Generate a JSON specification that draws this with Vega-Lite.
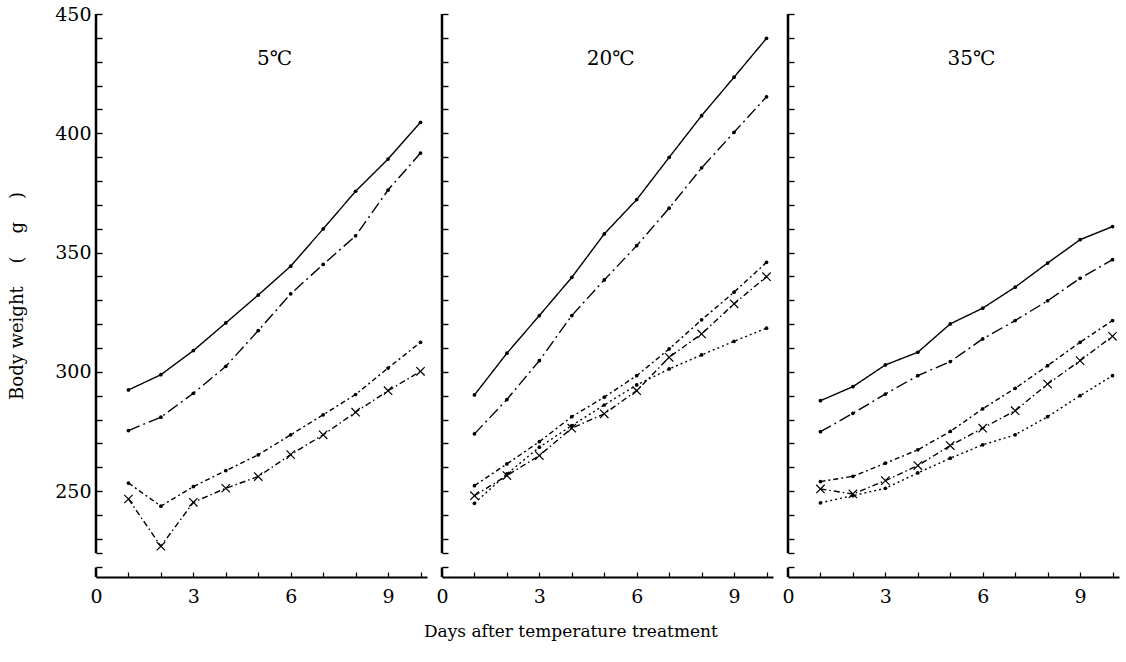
{
  "$schema": "https://vega.github.io/schema/vega-lite/v6.json",
  "padding": {"left": 8, "top": 5, "right": 2, "bottom": 2},
  "background": "white",
  "config": {
    "view": {"stroke": null},
    "font": "DejaVu Serif",
    "axis": {
      "grid": false,
      "labelFont": "DejaVu Serif",
      "labelFontSize": 19,
      "labelColor": "black",
      "tickColor": "black",
      "domainColor": "black",
      "titleFont": "DejaVu Serif",
      "titleFontWeight": "normal",
      "titleColor": "black",
      "labelFlush": false,
      "labelOverlap": false,
      "tickCount": 200,
      "format": "d"
    }
  },
  "title": {
    "text": "Days after temperature treatment",
    "orient": "bottom",
    "anchor": "middle",
    "font": "DejaVu Serif",
    "fontSize": 17,
    "fontWeight": "normal",
    "color": "black",
    "offset": 18,
    "dx": 7
  },
  "spacing": 7,
  "datasets": {
    "bw": [
      {"temp": "5℃", "series": "A", "day": 1, "w": 292.4},
      {"temp": "5℃", "series": "A", "day": 2, "w": 298.8},
      {"temp": "5℃", "series": "A", "day": 3, "w": 308.9},
      {"temp": "5℃", "series": "A", "day": 4, "w": 320.5},
      {"temp": "5℃", "series": "A", "day": 5, "w": 332.2},
      {"temp": "5℃", "series": "A", "day": 6, "w": 344.3},
      {"temp": "5℃", "series": "A", "day": 7, "w": 359.9},
      {"temp": "5℃", "series": "A", "day": 8, "w": 375.7},
      {"temp": "5℃", "series": "A", "day": 9, "w": 389.2},
      {"temp": "5℃", "series": "A", "day": 10, "w": 404.6},
      {"temp": "5℃", "series": "B", "day": 1, "w": 275.4},
      {"temp": "5℃", "series": "B", "day": 2, "w": 281.0},
      {"temp": "5℃", "series": "B", "day": 3, "w": 291.0},
      {"temp": "5℃", "series": "B", "day": 4, "w": 302.3},
      {"temp": "5℃", "series": "B", "day": 5, "w": 317.3},
      {"temp": "5℃", "series": "B", "day": 6, "w": 332.7},
      {"temp": "5℃", "series": "B", "day": 7, "w": 345.0},
      {"temp": "5℃", "series": "B", "day": 8, "w": 357.0},
      {"temp": "5℃", "series": "B", "day": 9, "w": 376.2},
      {"temp": "5℃", "series": "B", "day": 10, "w": 391.7},
      {"temp": "5℃", "series": "C", "day": 1, "w": 253.4},
      {"temp": "5℃", "series": "C", "day": 2, "w": 243.7},
      {"temp": "5℃", "series": "C", "day": 3, "w": 251.9},
      {"temp": "5℃", "series": "C", "day": 4, "w": 258.6},
      {"temp": "5℃", "series": "C", "day": 5, "w": 265.2},
      {"temp": "5℃", "series": "C", "day": 6, "w": 273.6},
      {"temp": "5℃", "series": "C", "day": 7, "w": 282.0},
      {"temp": "5℃", "series": "C", "day": 8, "w": 290.5},
      {"temp": "5℃", "series": "C", "day": 9, "w": 301.6},
      {"temp": "5℃", "series": "C", "day": 10, "w": 312.4},
      {"temp": "5℃", "series": "D", "day": 1, "w": 246.7},
      {"temp": "5℃", "series": "D", "day": 2, "w": 226.9},
      {"temp": "5℃", "series": "D", "day": 3, "w": 245.3},
      {"temp": "5℃", "series": "D", "day": 4, "w": 251.2},
      {"temp": "5℃", "series": "D", "day": 5, "w": 256.1},
      {"temp": "5℃", "series": "D", "day": 6, "w": 265.3},
      {"temp": "5℃", "series": "D", "day": 7, "w": 273.6},
      {"temp": "5℃", "series": "D", "day": 8, "w": 283.1},
      {"temp": "5℃", "series": "D", "day": 9, "w": 292.1},
      {"temp": "5℃", "series": "D", "day": 10, "w": 300.2},
      {"temp": "20℃", "series": "A", "day": 1, "w": 290.3},
      {"temp": "20℃", "series": "A", "day": 2, "w": 307.8},
      {"temp": "20℃", "series": "A", "day": 3, "w": 323.6},
      {"temp": "20℃", "series": "A", "day": 4, "w": 339.6},
      {"temp": "20℃", "series": "A", "day": 5, "w": 357.8},
      {"temp": "20℃", "series": "A", "day": 6, "w": 372.2},
      {"temp": "20℃", "series": "A", "day": 7, "w": 389.9},
      {"temp": "20℃", "series": "A", "day": 8, "w": 407.4},
      {"temp": "20℃", "series": "A", "day": 9, "w": 423.5},
      {"temp": "20℃", "series": "A", "day": 10, "w": 439.8},
      {"temp": "20℃", "series": "B", "day": 1, "w": 274.0},
      {"temp": "20℃", "series": "B", "day": 2, "w": 288.4},
      {"temp": "20℃", "series": "B", "day": 3, "w": 304.7},
      {"temp": "20℃", "series": "B", "day": 4, "w": 323.6},
      {"temp": "20℃", "series": "B", "day": 5, "w": 338.5},
      {"temp": "20℃", "series": "B", "day": 6, "w": 352.9},
      {"temp": "20℃", "series": "B", "day": 7, "w": 368.6},
      {"temp": "20℃", "series": "B", "day": 8, "w": 385.5},
      {"temp": "20℃", "series": "B", "day": 9, "w": 400.4},
      {"temp": "20℃", "series": "B", "day": 10, "w": 415.3},
      {"temp": "20℃", "series": "C", "day": 1, "w": 252.3},
      {"temp": "20℃", "series": "C", "day": 2, "w": 261.4},
      {"temp": "20℃", "series": "C", "day": 3, "w": 270.7},
      {"temp": "20℃", "series": "C", "day": 4, "w": 281.2},
      {"temp": "20℃", "series": "C", "day": 5, "w": 289.4},
      {"temp": "20℃", "series": "C", "day": 6, "w": 298.4},
      {"temp": "20℃", "series": "C", "day": 7, "w": 309.6},
      {"temp": "20℃", "series": "C", "day": 8, "w": 321.8},
      {"temp": "20℃", "series": "C", "day": 9, "w": 333.4},
      {"temp": "20℃", "series": "C", "day": 10, "w": 345.9},
      {"temp": "20℃", "series": "D", "day": 1, "w": 248.1},
      {"temp": "20℃", "series": "D", "day": 2, "w": 256.5},
      {"temp": "20℃", "series": "D", "day": 3, "w": 264.9},
      {"temp": "20℃", "series": "D", "day": 4, "w": 276.4},
      {"temp": "20℃", "series": "D", "day": 5, "w": 282.4},
      {"temp": "20℃", "series": "D", "day": 6, "w": 292.1},
      {"temp": "20℃", "series": "D", "day": 7, "w": 306.1},
      {"temp": "20℃", "series": "D", "day": 8, "w": 315.9},
      {"temp": "20℃", "series": "D", "day": 9, "w": 328.5},
      {"temp": "20℃", "series": "D", "day": 10, "w": 339.9},
      {"temp": "20℃", "series": "E", "day": 1, "w": 244.9},
      {"temp": "20℃", "series": "E", "day": 2, "w": 257.2},
      {"temp": "20℃", "series": "E", "day": 3, "w": 268.4},
      {"temp": "20℃", "series": "E", "day": 4, "w": 277.5},
      {"temp": "20℃", "series": "E", "day": 5, "w": 286.1},
      {"temp": "20℃", "series": "E", "day": 6, "w": 294.5},
      {"temp": "20℃", "series": "E", "day": 7, "w": 301.2},
      {"temp": "20℃", "series": "E", "day": 8, "w": 307.1},
      {"temp": "20℃", "series": "E", "day": 9, "w": 312.8},
      {"temp": "20℃", "series": "E", "day": 10, "w": 318.3},
      {"temp": "35℃", "series": "A", "day": 1, "w": 287.9},
      {"temp": "35℃", "series": "A", "day": 2, "w": 293.8},
      {"temp": "35℃", "series": "A", "day": 3, "w": 302.9},
      {"temp": "35℃", "series": "A", "day": 4, "w": 308.2},
      {"temp": "35℃", "series": "A", "day": 5, "w": 320.1},
      {"temp": "35℃", "series": "A", "day": 6, "w": 326.7},
      {"temp": "35℃", "series": "A", "day": 7, "w": 335.5},
      {"temp": "35℃", "series": "A", "day": 8, "w": 345.6},
      {"temp": "35℃", "series": "A", "day": 9, "w": 355.4},
      {"temp": "35℃", "series": "A", "day": 10, "w": 360.9},
      {"temp": "35℃", "series": "B", "day": 1, "w": 274.9},
      {"temp": "35℃", "series": "B", "day": 2, "w": 282.6},
      {"temp": "35℃", "series": "B", "day": 3, "w": 290.7},
      {"temp": "35℃", "series": "B", "day": 4, "w": 298.4},
      {"temp": "35℃", "series": "B", "day": 5, "w": 304.3},
      {"temp": "35℃", "series": "B", "day": 6, "w": 313.8},
      {"temp": "35℃", "series": "B", "day": 7, "w": 321.5},
      {"temp": "35℃", "series": "B", "day": 8, "w": 329.8},
      {"temp": "35℃", "series": "B", "day": 9, "w": 339.2},
      {"temp": "35℃", "series": "B", "day": 10, "w": 347.0},
      {"temp": "35℃", "series": "C", "day": 1, "w": 254.0},
      {"temp": "35℃", "series": "C", "day": 2, "w": 256.2},
      {"temp": "35℃", "series": "C", "day": 3, "w": 261.7},
      {"temp": "35℃", "series": "C", "day": 4, "w": 267.3},
      {"temp": "35℃", "series": "C", "day": 5, "w": 275.0},
      {"temp": "35℃", "series": "C", "day": 6, "w": 284.5},
      {"temp": "35℃", "series": "C", "day": 7, "w": 293.1},
      {"temp": "35℃", "series": "C", "day": 8, "w": 302.6},
      {"temp": "35℃", "series": "C", "day": 9, "w": 312.4},
      {"temp": "35℃", "series": "C", "day": 10, "w": 321.5},
      {"temp": "35℃", "series": "D", "day": 1, "w": 250.9},
      {"temp": "35℃", "series": "D", "day": 2, "w": 248.8},
      {"temp": "35℃", "series": "D", "day": 3, "w": 254.4},
      {"temp": "35℃", "series": "D", "day": 4, "w": 260.7},
      {"temp": "35℃", "series": "D", "day": 5, "w": 269.1},
      {"temp": "35℃", "series": "D", "day": 6, "w": 276.4},
      {"temp": "35℃", "series": "D", "day": 7, "w": 283.7},
      {"temp": "35℃", "series": "D", "day": 8, "w": 294.9},
      {"temp": "35℃", "series": "D", "day": 9, "w": 304.7},
      {"temp": "35℃", "series": "D", "day": 10, "w": 314.9},
      {"temp": "35℃", "series": "E", "day": 1, "w": 245.1},
      {"temp": "35℃", "series": "E", "day": 2, "w": 248.1},
      {"temp": "35℃", "series": "E", "day": 3, "w": 251.2},
      {"temp": "35℃", "series": "E", "day": 4, "w": 257.6},
      {"temp": "35℃", "series": "E", "day": 5, "w": 263.8},
      {"temp": "35℃", "series": "E", "day": 6, "w": 269.4},
      {"temp": "35℃", "series": "E", "day": 7, "w": 273.6},
      {"temp": "35℃", "series": "E", "day": 8, "w": 281.2},
      {"temp": "35℃", "series": "E", "day": 9, "w": 290.0},
      {"temp": "35℃", "series": "E", "day": 10, "w": 298.4}
    ]
  },
  "hconcat": [
    {
      "width": 331,
      "height": 563,
      "data": {"name": "bw"},
      "transform": [{"filter": "datum.temp === '5℃'"}],
      "layer": [
        {
          "mark": {"type": "line", "color": "black", "strokeWidth": 1.4},
          "encoding": {
            "x": {"field": "day", "type": "quantitative", "scale": {"domain": [0, 10.2], "nice": false},
              "axis": {"title": null, "values": [0,1,2,3,4,5,6,7,8,9,10], "labelExpr": "(datum.value % 3 === 0 && datum.value < 10) ? datum.label : ''", "tickSize": -5, "tickWidth": 1.2, "domainWidth": 2.2, "labelPadding": 15}},
            "y": {"field": "w", "type": "quantitative", "scale": {"domain": [214, 450], "nice": false, "zero": false},
              "axis": {"title": "Body weight\u00a0\u00a0\u00a0\u00a0(\u00a0\u00a0\u00a0\u00a0g\u00a0\u00a0\u00a0\u00a0)", "titleFontSize": 18, "titlePadding": 28, "domain": false, "values": [218,224,230,240,250,260,270,280,290,300,310,320,330,340,350,360,370,380,390,400,410,420,430,440,450], "labelExpr": "datum.value % 50 === 0 ? datum.label : ''", "tickSize": -6, "tickWidth": 1.4, "labelPadding": 11}},
            "detail": {"field": "series"},
            "strokeDash": {"field": "series", "type": "nominal", "scale": {"domain": ["A","B","C","D","E"], "range": [[1,0],[12,4,2,4],[5,3,2,3],[6,3,1.5,3],[2,3]]}, "legend": null}
          }
        },
        {
          "transform": [{"filter": "datum.series !== 'D'"}],
          "mark": {"type": "point", "shape": "circle", "filled": true, "color": "black", "size": 14, "opacity": 1},
          "encoding": {"x": {"field": "day", "type": "quantitative"}, "y": {"field": "w", "type": "quantitative"}}
        },
        {
          "transform": [{"filter": "datum.series === 'D'"}],
          "mark": {"type": "point", "shape": "M-1,-1L1,1M-1,1L1,-1", "filled": false, "color": "black", "strokeWidth": 1.2, "size": 70, "opacity": 1},
          "encoding": {"x": {"field": "day", "type": "quantitative"}, "y": {"field": "w", "type": "quantitative"}}
        },
        {
          "data": {"values": [{}]},
          "mark": {"type": "rule", "color": "black", "strokeWidth": 2.5},
          "encoding": {"x": {"datum": 0, "type": "quantitative"}, "y": {"datum": 224, "type": "quantitative"}, "y2": {"datum": 450}}
        },
        {
          "data": {"values": [{}]},
          "mark": {"type": "rule", "color": "black", "strokeWidth": 2.5},
          "encoding": {"x": {"datum": 0, "type": "quantitative"}, "y": {"datum": 214, "type": "quantitative"}, "y2": {"datum": 218}}
        },
        {
          "data": {"values": [{"t": "5℃"}]},
          "mark": {"type": "text", "font": "DejaVu Serif", "fontSize": 20, "color": "black"},
          "encoding": {"x": {"datum": 5.5, "type": "quantitative"}, "y": {"datum": 431, "type": "quantitative"}, "text": {"field": "t"}}
        }
      ]
    },
    {
      "width": 331,
      "height": 563,
      "data": {"name": "bw"},
      "transform": [{"filter": "datum.temp === '20℃'"}],
      "layer": [
        {
          "mark": {"type": "line", "color": "black", "strokeWidth": 1.4},
          "encoding": {
            "x": {"field": "day", "type": "quantitative", "scale": {"domain": [0, 10.2], "nice": false},
              "axis": {"title": null, "values": [0,1,2,3,4,5,6,7,8,9,10], "labelExpr": "(datum.value % 3 === 0 && datum.value < 10) ? datum.label : ''", "tickSize": -5, "tickWidth": 1.2, "domainWidth": 2.2, "labelPadding": 15}},
            "y": {"field": "w", "type": "quantitative", "scale": {"domain": [214, 450], "nice": false, "zero": false},
              "axis": {"title": null, "labels": false, "domain": false, "values": [218,224,230,240,250,260,270,280,290,300,310,320,330,340,350,360,370,380,390,400,410,420,430,440,450], "tickSize": -6, "tickWidth": 1.4}},
            "detail": {"field": "series"},
            "strokeDash": {"field": "series", "type": "nominal", "scale": {"domain": ["A","B","C","D","E"], "range": [[1,0],[12,4,2,4],[5,3,2,3],[6,3,1.5,3],[2,3]]}, "legend": null}
          }
        },
        {
          "transform": [{"filter": "datum.series !== 'D'"}],
          "mark": {"type": "point", "shape": "circle", "filled": true, "color": "black", "size": 14, "opacity": 1},
          "encoding": {"x": {"field": "day", "type": "quantitative"}, "y": {"field": "w", "type": "quantitative"}}
        },
        {
          "transform": [{"filter": "datum.series === 'D'"}],
          "mark": {"type": "point", "shape": "M-1,-1L1,1M-1,1L1,-1", "filled": false, "color": "black", "strokeWidth": 1.2, "size": 70, "opacity": 1},
          "encoding": {"x": {"field": "day", "type": "quantitative"}, "y": {"field": "w", "type": "quantitative"}}
        },
        {
          "data": {"values": [{}]},
          "mark": {"type": "rule", "color": "black", "strokeWidth": 2.5},
          "encoding": {"x": {"datum": 0, "type": "quantitative"}, "y": {"datum": 224, "type": "quantitative"}, "y2": {"datum": 450}}
        },
        {
          "data": {"values": [{}]},
          "mark": {"type": "rule", "color": "black", "strokeWidth": 2.5},
          "encoding": {"x": {"datum": 0, "type": "quantitative"}, "y": {"datum": 214, "type": "quantitative"}, "y2": {"datum": 218}}
        },
        {
          "data": {"values": [{"t": "20℃"}]},
          "mark": {"type": "text", "font": "DejaVu Serif", "fontSize": 20, "color": "black"},
          "encoding": {"x": {"datum": 5.2, "type": "quantitative"}, "y": {"datum": 431, "type": "quantitative"}, "text": {"field": "t"}}
        }
      ]
    },
    {
      "width": 331,
      "height": 563,
      "data": {"name": "bw"},
      "transform": [{"filter": "datum.temp === '35℃'"}],
      "layer": [
        {
          "mark": {"type": "line", "color": "black", "strokeWidth": 1.4},
          "encoding": {
            "x": {"field": "day", "type": "quantitative", "scale": {"domain": [0, 10.2], "nice": false},
              "axis": {"title": null, "values": [0,1,2,3,4,5,6,7,8,9,10], "labelExpr": "(datum.value % 3 === 0 && datum.value < 10) ? datum.label : ''", "tickSize": -5, "tickWidth": 1.2, "domainWidth": 2.2, "labelPadding": 15}},
            "y": {"field": "w", "type": "quantitative", "scale": {"domain": [214, 450], "nice": false, "zero": false},
              "axis": {"title": null, "labels": false, "domain": false, "values": [218,224,230,240,250,260,270,280,290,300,310,320,330,340,350,360,370,380,390,400,410,420,430,440,450], "tickSize": -6, "tickWidth": 1.4}},
            "detail": {"field": "series"},
            "strokeDash": {"field": "series", "type": "nominal", "scale": {"domain": ["A","B","C","D","E"], "range": [[1,0],[12,4,2,4],[5,3,2,3],[6,3,1.5,3],[2,3]]}, "legend": null}
          }
        },
        {
          "transform": [{"filter": "datum.series !== 'D'"}],
          "mark": {"type": "point", "shape": "circle", "filled": true, "color": "black", "size": 14, "opacity": 1},
          "encoding": {"x": {"field": "day", "type": "quantitative"}, "y": {"field": "w", "type": "quantitative"}}
        },
        {
          "transform": [{"filter": "datum.series === 'D'"}],
          "mark": {"type": "point", "shape": "M-1,-1L1,1M-1,1L1,-1", "filled": false, "color": "black", "strokeWidth": 1.2, "size": 70, "opacity": 1},
          "encoding": {"x": {"field": "day", "type": "quantitative"}, "y": {"field": "w", "type": "quantitative"}}
        },
        {
          "data": {"values": [{}]},
          "mark": {"type": "rule", "color": "black", "strokeWidth": 2.5},
          "encoding": {"x": {"datum": 0, "type": "quantitative"}, "y": {"datum": 224, "type": "quantitative"}, "y2": {"datum": 450}}
        },
        {
          "data": {"values": [{}]},
          "mark": {"type": "rule", "color": "black", "strokeWidth": 2.5},
          "encoding": {"x": {"datum": 0, "type": "quantitative"}, "y": {"datum": 214, "type": "quantitative"}, "y2": {"datum": 218}}
        },
        {
          "data": {"values": [{"t": "35℃"}]},
          "mark": {"type": "text", "font": "DejaVu Serif", "fontSize": 20, "color": "black"},
          "encoding": {"x": {"datum": 5.65, "type": "quantitative"}, "y": {"datum": 431, "type": "quantitative"}, "text": {"field": "t"}}
        }
      ]
    }
  ]
}
